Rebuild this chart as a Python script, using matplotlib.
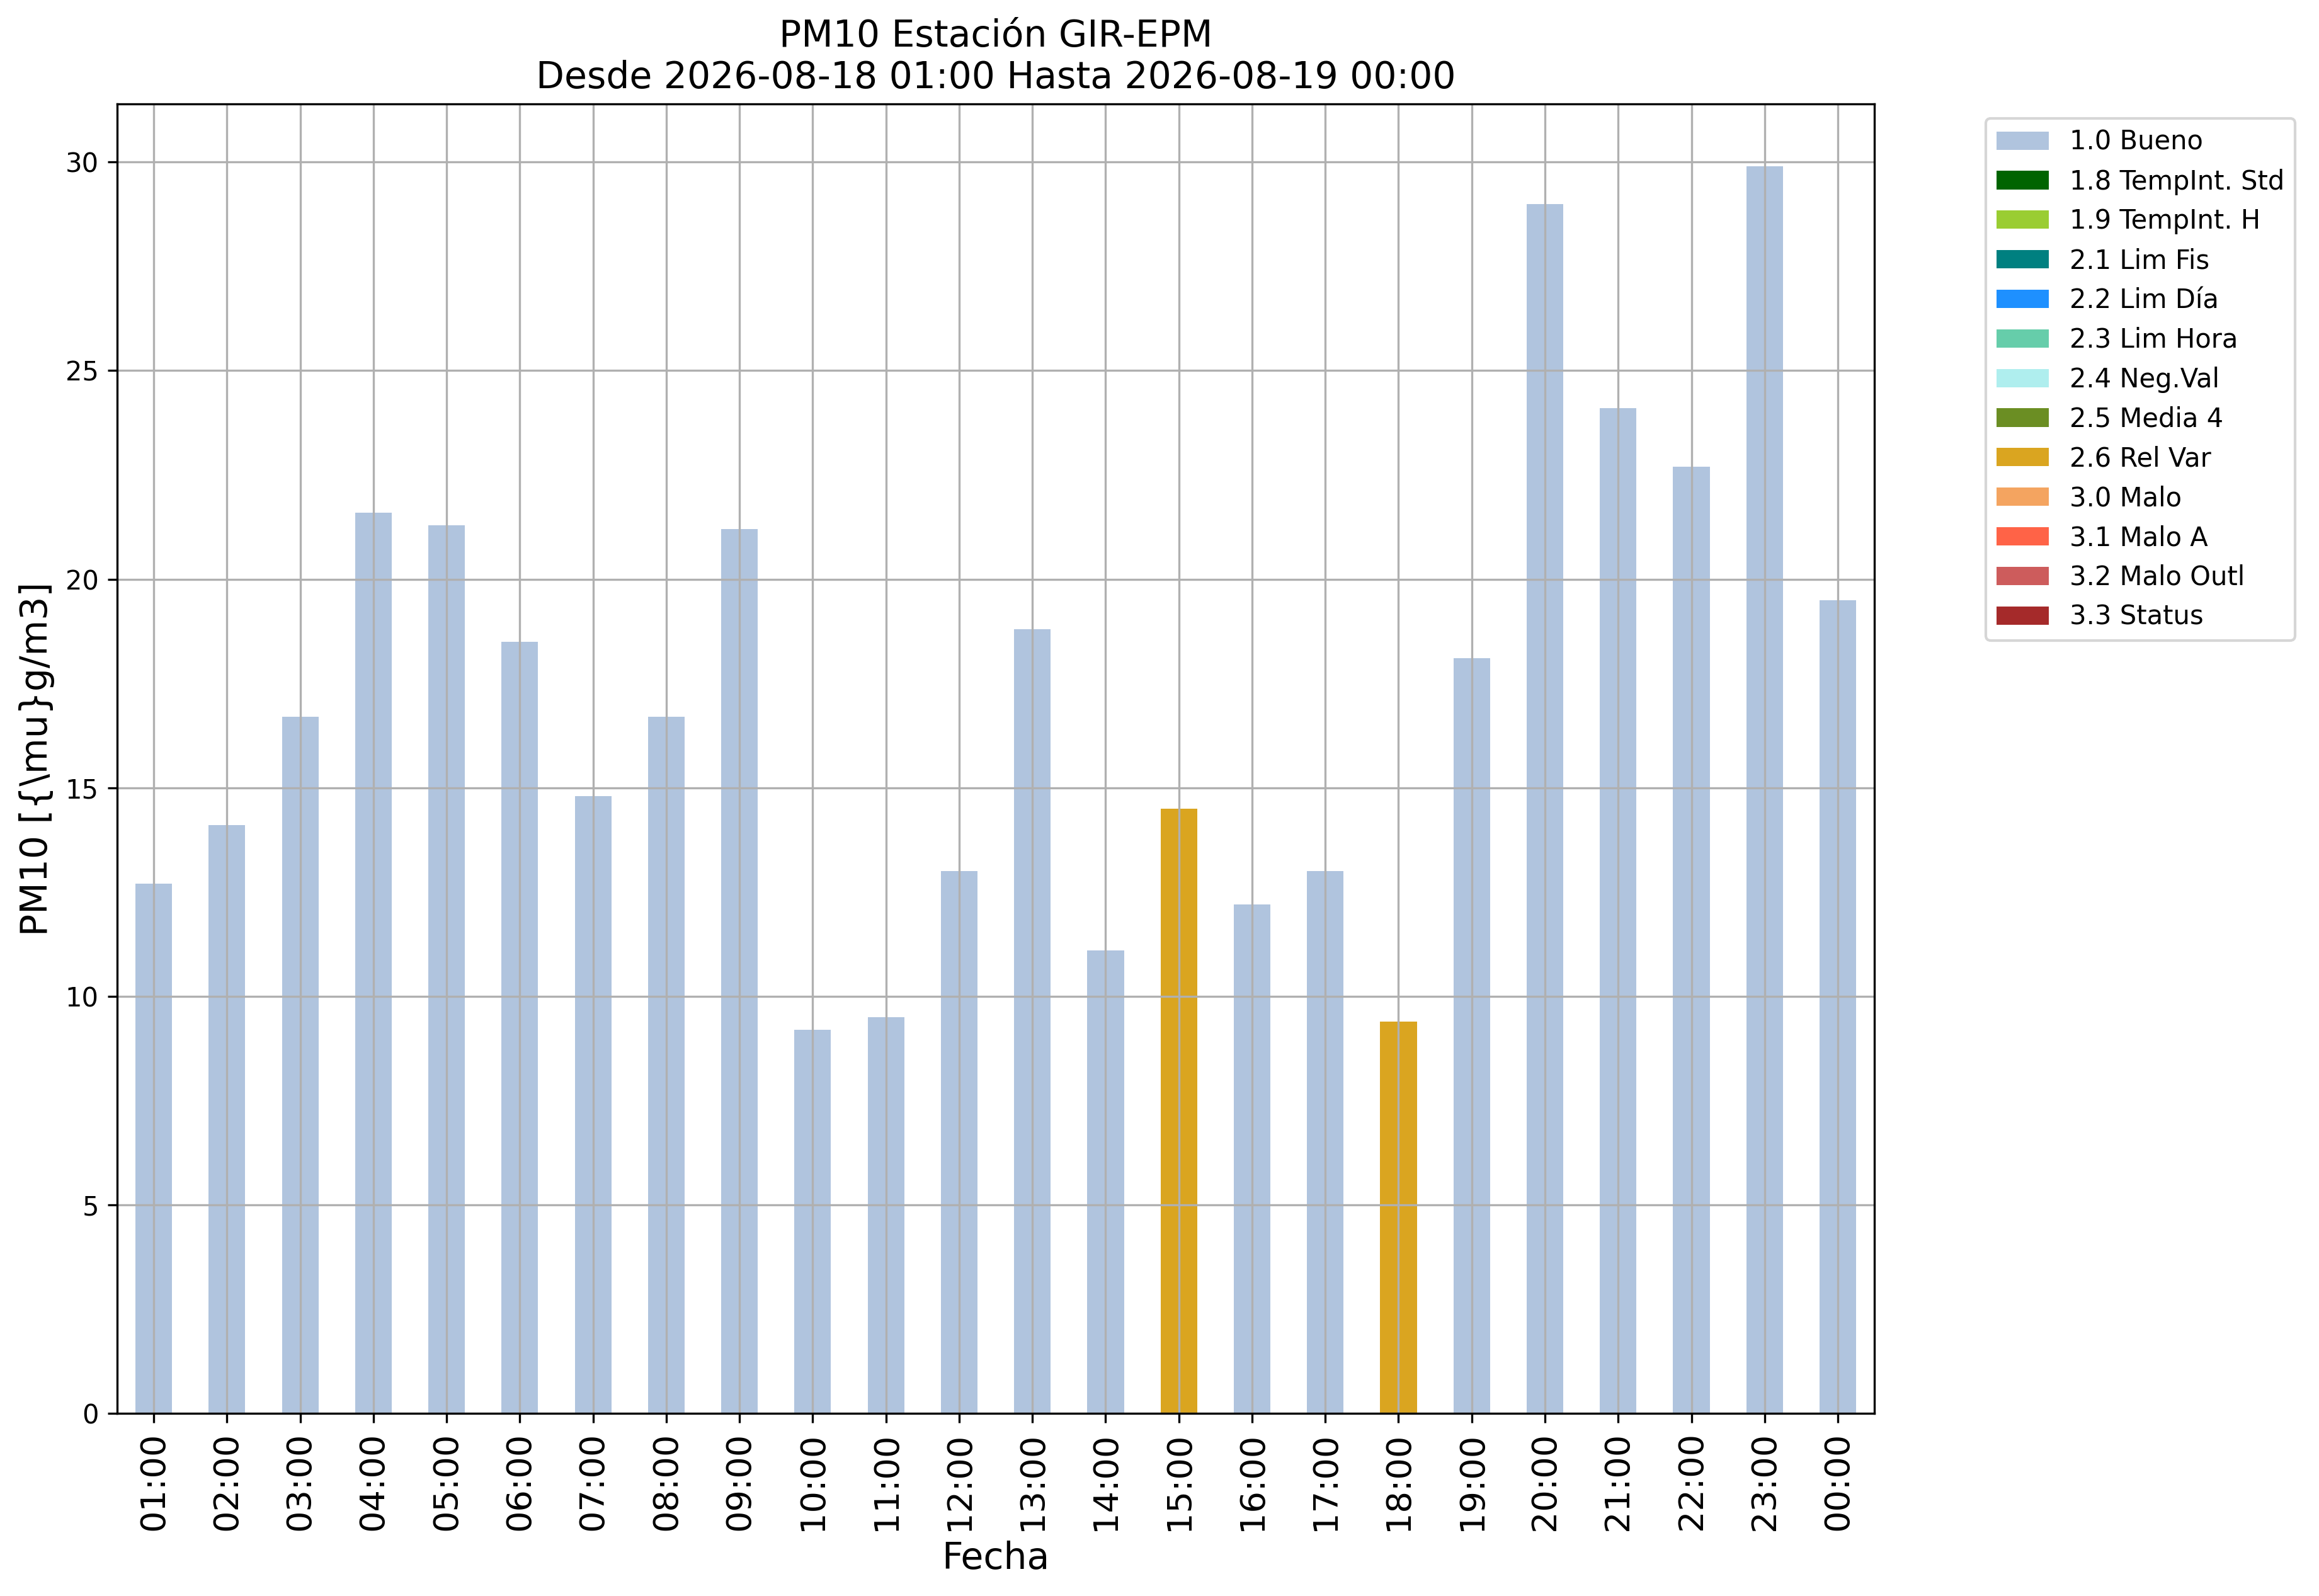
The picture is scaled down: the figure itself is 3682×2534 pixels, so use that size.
import numpy as np
import matplotlib
matplotlib.use('Agg')
import matplotlib.pyplot as plt

# hourly PM10 values and their quality flag
horas = ['01:00', '02:00', '03:00', '04:00', '05:00', '06:00', '07:00', '08:00',
         '09:00', '10:00', '11:00', '12:00', '13:00', '14:00', '15:00', '16:00',
         '17:00', '18:00', '19:00', '20:00', '21:00', '22:00', '23:00', '00:00']
pm10 = [12.7, 14.1, 16.7, 21.6, 21.3, 18.5, 14.8, 16.7, 21.2, 9.2, 9.5, 13.0,
        18.8, 11.1, 14.5, 12.2, 13.0, 9.4, 18.1, 29.0, 24.1, 22.7, 29.9, 19.5]
flags = ['1.0 Bueno'] * 24
flags[14] = '2.6 Rel Var'
flags[17] = '2.6 Rel Var'

categorias = ['1.0 Bueno', '1.8 TempInt. Std', '1.9 TempInt. H', '2.1 Lim Fis',
              '2.2 Lim Día', '2.3 Lim Hora', '2.4 Neg.Val', '2.5 Media 4',
              '2.6 Rel Var', '3.0 Malo', '3.1 Malo A', '3.2 Malo Outl', '3.3 Status']
colores = ['lightsteelblue', 'darkgreen', 'yellowgreen', 'teal', 'dodgerblue',
           'mediumaquamarine', 'paleturquoise', 'olivedrab', 'goldenrod',
           'sandybrown', 'tomato', 'indianred', 'brown']

fig = plt.figure(figsize=(3682 / 300, 2534 / 300), dpi=300)
ax = fig.add_axes([0.0505, 0.1144, 0.8083 - 0.0505, 0.9349 - 0.1144])

x = np.arange(len(horas))
bottom = np.zeros(len(horas))
for cat, col in zip(categorias, colores):
    h = np.array([v if f == cat else 0.0 for v, f in zip(pm10, flags)])
    ax.bar(x, h, width=0.5, bottom=bottom, color=col, label=cat)
    bottom += h

ax.set_xlim(-0.5, len(horas) - 0.5)
ax.set_ylim(0, max(pm10) * 1.05)
ax.set_xticks(x)
ax.set_xticklabels(horas, rotation=90, fontsize=13)
ax.tick_params(axis='y', labelsize=10)
ax.grid(True)
ax.set_xlabel('Fecha', fontsize=14)
ax.set_ylabel(r'PM10 [{\mu}g/m3]', fontsize=14)
ax.set_title('PM10 Estación GIR-EPM\nDesde 2026-08-18 01:00 Hasta 2026-08-19 00:00',
             fontsize=14)

ax.legend(loc='upper left', bbox_to_anchor=(3153 / 3682, 1 - 188 / 2534),
          bbox_transform=fig.transFigure, borderaxespad=0, fontsize=10)

fig.savefig('out.png', dpi=300)
